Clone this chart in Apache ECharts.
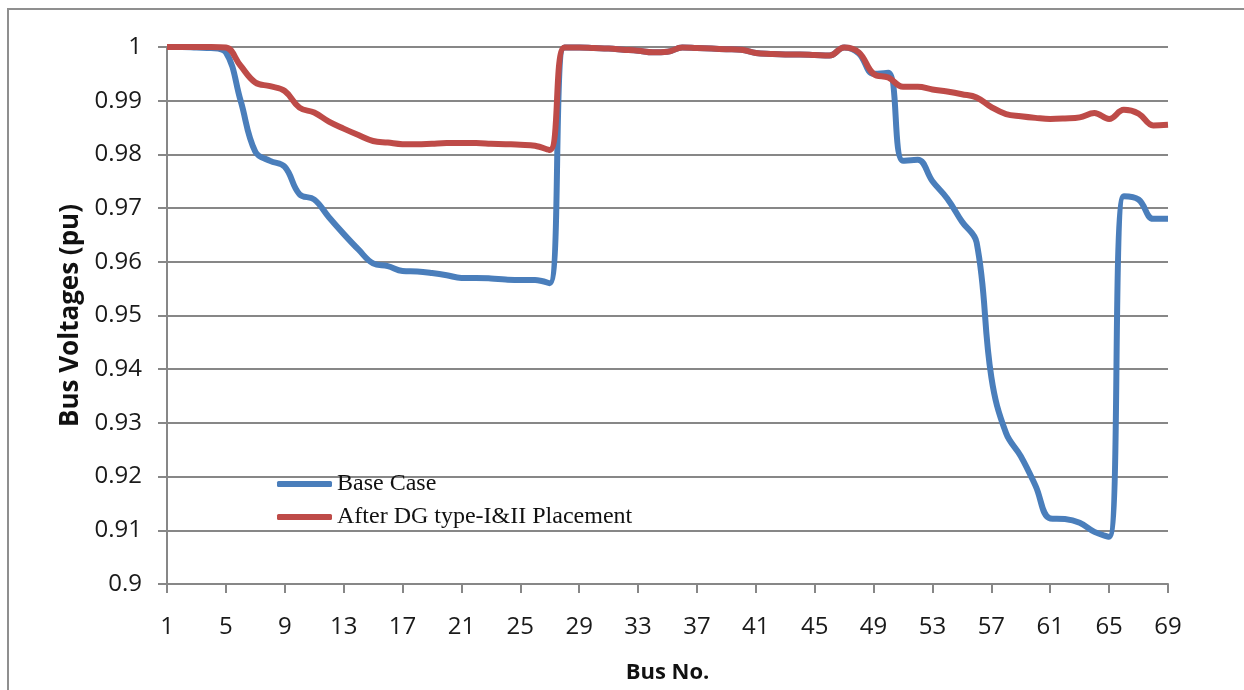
<!DOCTYPE html>
<html>
<head>
<meta charset="utf-8">
<script src="https://cdn.jsdelivr.net/npm/echarts@6/dist/echarts.min.js"></script>
<style>
  html, body { margin: 0; padding: 0; background: #ffffff; }
  #chart { width: 1244px; height: 690px; }
</style>
</head>
<body>
<div id="chart"></div>
<script>
// Bus numbers of the 69-bus feeder
const buses = [
  1, 2, 3, 4, 5, 6, 7, 8, 9, 10, 11, 12, 13, 14, 15, 16, 17, 18, 19, 20,
  21, 22, 23, 24, 25, 26, 27, 28, 29, 30, 31, 32, 33, 34, 35, 36, 37, 38, 39, 40,
  41, 42, 43, 44, 45, 46, 47, 48, 49, 50, 51, 52, 53, 54, 55, 56, 57, 58, 59, 60,
  61, 62, 63, 64, 65, 66, 67, 68, 69
];

// Bus voltages (pu) without distributed generation
const baseCase = [
  1.0000, 1.0000, 0.9999, 0.9998, 0.9990, 0.9900, 0.9805, 0.9788, 0.9777, 0.9726,
  0.9716, 0.9683, 0.9652, 0.9623, 0.9597, 0.9592, 0.9583, 0.9582, 0.9579, 0.9575,
  0.9570, 0.9570, 0.9569, 0.9567, 0.9566, 0.9566, 0.9560, 0.9999, 0.9999, 0.9998,
  0.9997, 0.9995, 0.9993, 0.9990, 0.9991, 0.9999, 0.9998, 0.9997, 0.9996, 0.9995,
  0.9989, 0.9987, 0.9986, 0.9986, 0.9985, 0.9984, 0.9999, 0.9988, 0.9950, 0.9952,
  0.9788, 0.9790, 0.9750, 0.9718, 0.9675, 0.9636, 0.9385, 0.9281, 0.9238, 0.9183,
  0.9122, 0.9121, 0.9114, 0.9097, 0.9088, 0.9722, 0.9716, 0.9680, 0.9680
];

// Bus voltages (pu) after placing DG type-I and type-II units
const afterDG = [
  1.0000, 1.0000, 1.0000, 1.0000, 0.9999, 0.9965, 0.9934, 0.9927, 0.9918, 0.9887,
  0.9878, 0.9861, 0.9848, 0.9836, 0.9825, 0.9822, 0.9819, 0.9819, 0.9820, 0.9821,
  0.9821, 0.9821, 0.9820, 0.9819, 0.9818, 0.9816, 0.9808, 0.9999, 0.9999, 0.9998,
  0.9997, 0.9995, 0.9993, 0.9990, 0.9991, 0.9999, 0.9998, 0.9997, 0.9996, 0.9995,
  0.9989, 0.9987, 0.9986, 0.9986, 0.9985, 0.9984, 0.9999, 0.9990, 0.9950, 0.9943,
  0.9926, 0.9926, 0.9921, 0.9917, 0.9912, 0.9906, 0.9888, 0.9875, 0.9871, 0.9868,
  0.9866, 0.9867, 0.9869, 0.9877, 0.9866, 0.9883, 0.9876, 0.9854, 0.9855
];

const seriesNames = ['Base Case', 'After DG type-I&II Placement'];

const gray = '#878787';
const labelFont = '"Open Sans", "Noto Sans", sans-serif';

const chart = echarts.init(document.getElementById('chart'), null, { renderer: 'canvas' });

chart.setOption({
  backgroundColor: '#ffffff',
  animation: false,
  graphic: [{
    type: 'rect',
    shape: { x: 8, y: 9, width: 1400, height: 900 },
    style: { fill: 'none', stroke: '#8f8f8f', lineWidth: 2 },
    silent: true
  }],
  grid: { left: 167, right: 76, top: 47, bottom: 106, containLabel: false },
  legend: {
    orient: 'vertical',
    left: 272,
    top: 467,
    itemWidth: 55,
    itemHeight: 6,
    itemGap: 9,
    icon: 'roundRect',
    textStyle: { fontFamily: '"Liberation Serif", "Times New Roman", serif', fontSize: 24, color: '#111' },
    data: seriesNames
  },
  xAxis: {
    type: 'category',
    data: buses,
    boundaryGap: false,
    name: 'Bus No.',
    nameLocation: 'middle',
    nameGap: 78,
    nameTextStyle: { fontFamily: labelFont, fontWeight: 'bold', fontSize: 22, color: '#111' },
    axisLine: { lineStyle: { color: gray, width: 2 } },
    axisTick: { interval: 3, length: 9, lineStyle: { color: gray, width: 2 } },
    axisLabel: { interval: 3, margin: 31, fontFamily: labelFont, fontSize: 24, color: '#1a1a1a' },
    splitLine: { show: false }
  },
  yAxis: {
    type: 'value',
    min: 0.9,
    max: 1,
    interval: 0.01,
    name: 'Bus Voltages (pu)',
    nameLocation: 'middle',
    nameRotate: 90,
    nameGap: 78,
    nameTextStyle: { fontFamily: labelFont, fontWeight: 'bold', fontSize: 26, color: '#111' },
    axisLine: { show: true, lineStyle: { color: gray, width: 2 } },
    axisTick: { show: true, length: 9, lineStyle: { color: gray, width: 2 } },
    axisLabel: {
      margin: 25,
      fontFamily: labelFont,
      fontSize: 24,
      color: '#1a1a1a',
      formatter: v => String(+v.toFixed(2))
    },
    splitLine: { show: true, lineStyle: { color: gray, width: 2 } }
  },
  series: [
    {
      name: seriesNames[0],
      type: 'line',
      data: baseCase,
      smooth: 0.4,
      symbol: 'none',
      lineStyle: { color: '#4A7EBB', width: 6 },
      itemStyle: { color: '#4A7EBB' },
      z: 2
    },
    {
      name: seriesNames[1],
      type: 'line',
      data: afterDG,
      smooth: 0.4,
      symbol: 'none',
      lineStyle: { color: '#BE4B48', width: 6 },
      itemStyle: { color: '#BE4B48' },
      z: 3
    }
  ]
});
</script>
</body>
</html>
